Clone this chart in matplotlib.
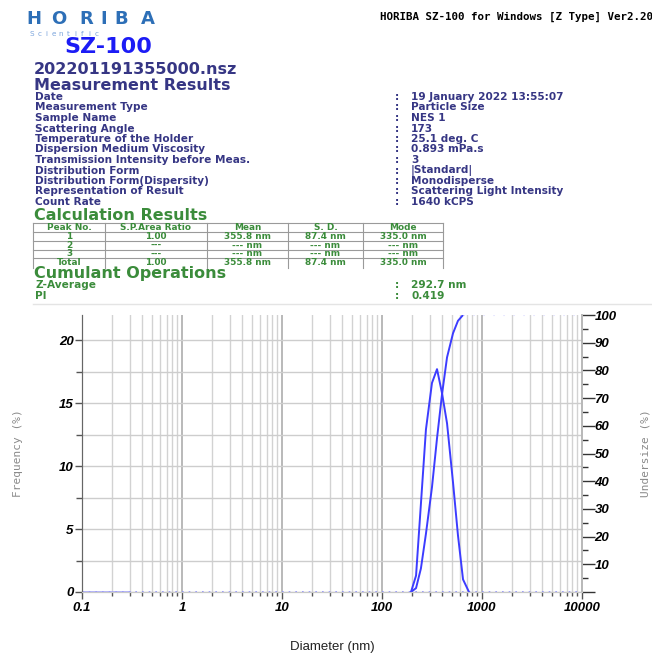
import numpy as np
import matplotlib
matplotlib.use('Agg')
import matplotlib.pyplot as plt
from matplotlib.ticker import FixedLocator, MultipleLocator, NullFormatter
from matplotlib.lines import Line2D

W, H = 652, 654

# report header values
header_right = "HORIBA SZ-100 for Windows [Z Type] Ver2.20"
file_name = "202201191355000.nsz"
info_labels = ["Date", "Measurement Type", "Sample Name", "Scattering Angle",
               "Temperature of the Holder", "Dispersion Medium Viscosity",
               "Transmission Intensity before Meas.", "Distribution Form",
               "Distribution Form(Dispersity)", "Representation of Result",
               "Count Rate"]
info_values = ["19 January 2022 13:55:07", "Particle Size", "NES 1", "173",
               "25.1 deg. C", "0.893 mPa.s", "3", "|Standard|",
               "Monodisperse", "Scattering Light Intensity", "1640 kCPS"]
table_header = ["Peak No.", "S.P.Area Ratio", "Mean", "S. D.", "Mode"]
table_rows = [["1", "1.00", "355.8 nm", "87.4 nm", "335.0 nm"],
              ["2", "---", "--- nm", "--- nm", "--- nm"],
              ["3", "---", "--- nm", "--- nm", "--- nm"],
              ["Total", "1.00", "355.8 nm", "87.4 nm", "335.0 nm"]]
cumulant_labels = ["Z-Average", "PI"]
cumulant_values = ["292.7 nm", "0.419"]

# distribution data
diameter = [195, 219, 245, 275, 316, 355, 398, 447, 513, 575, 646, 741]
frequency = [0, 1.3, 7.0, 12.9, 16.6, 17.7, 15.8, 13.4, 8.7, 4.5, 1.0, 0]
undersize = [0, 1.4, 8.5, 21.0, 37.8, 55.5, 71.3, 84.7, 93.4, 97.9, 100, 100]
x_ticks = [0.1, 1, 10, 100, 1000, 10000]
x_ticklabels = ["0.1", "1", "10", "100", "1000", "10000"]

navy = "#363684"
green = "#3b8c3b"
blue = "#3c3cff"
row_size = 7.6


def px(x, y):
    return x / W, 1 - y / H


fig = plt.figure(figsize=(W / 100, H / 100), dpi=100)

# logo
logo_x = [34, 59, 86, 103.5, 121, 148]
for ch, lx in zip("HORIBA", logo_x):
    fig.text(*px(lx, 24.5), ch, ha='center', va='baseline', fontsize=13,
             fontweight='bold', color='#2d6fb7', family='DejaVu Sans')
for i, ch in enumerate("Scientific"):
    fig.text(*px(32 + i * 7.2, 34), ch, ha='center', va='center', fontsize=5.2,
             color='#7aa4dc', family='DejaVu Sans')
fig.text(*px(380, 17), header_right, ha='left', va='center', fontsize=7.8,
         fontweight='bold', family='DejaVu Sans Mono', color='black')
fig.text(*px(64, 47), "SZ-100", ha='left', va='center', fontsize=16,
         fontweight='bold', color='#1c1cf5', family='DejaVu Sans')
fig.text(*px(34, 70), file_name, ha='left', va='center', fontsize=11.5,
         fontweight='bold', color=navy, family='DejaVu Sans')
fig.text(*px(34, 85), "Measurement Results", ha='left', va='center', fontsize=11.5,
         fontweight='bold', color=navy, family='DejaVu Sans')

for i, (lab, val) in enumerate(zip(info_labels, info_values)):
    yy = 97 + i * 10.5
    fig.text(*px(35, yy), lab, ha='left', va='center', fontsize=row_size,
             fontweight='bold', color=navy, family='DejaVu Sans')
    fig.text(*px(395, yy), ":", ha='left', va='center', fontsize=row_size,
             fontweight='bold', color=navy, family='DejaVu Sans')
    fig.text(*px(411, yy), val, ha='left', va='center', fontsize=row_size,
             fontweight='bold', color=navy, family='DejaVu Sans')

fig.text(*px(34, 215), "Calculation Results", ha='left', va='center', fontsize=11.5,
         fontweight='bold', color=green, family='DejaVu Sans')

# table
col_edges = [33, 105, 207, 288, 363, 443]
row_y = [228, 237, 245.5, 254, 262.5]
line_y = [223, 232.5, 241, 249.5, 258]
for ly in line_y:
    fig.add_artist(Line2D([33 / W, 443 / W], [1 - ly / H, 1 - ly / H],
                          color='#9a9a9a', lw=0.8))
for cx in col_edges:
    fig.add_artist(Line2D([cx / W, cx / W], [1 - 223 / H, 1 - 268 / H],
                          color='#9a9a9a', lw=0.8))
for r, row in enumerate([table_header] + table_rows):
    for c, cell in enumerate(row):
        cx = (col_edges[c] + col_edges[c + 1]) / 2
        fig.text(*px(cx, row_y[r]), cell, ha='center', va='center', fontsize=6.4,
                 fontweight='bold', color=green, family='DejaVu Sans')

fig.text(*px(34, 273), "Cumulant Operations", ha='left', va='center', fontsize=11.5,
         fontweight='bold', color=green, family='DejaVu Sans')
for i, (lab, val) in enumerate(zip(cumulant_labels, cumulant_values)):
    yy = 285.5 + i * 10.5
    fig.text(*px(35, yy), lab, ha='left', va='center', fontsize=row_size,
             fontweight='bold', color=green, family='DejaVu Sans')
    fig.text(*px(395, yy), ":", ha='left', va='center', fontsize=row_size,
             fontweight='bold', color=green, family='DejaVu Sans')
    fig.text(*px(411, yy), val, ha='left', va='center', fontsize=row_size,
             fontweight='bold', color=green, family='DejaVu Sans')
fig.add_artist(Line2D([33 / W, 1], [1 - 304 / H, 1 - 304 / H], color='#e4e4e4', lw=1))

# chart
ax = fig.add_axes([82 / W, (H - 592) / H, 500 / W, 277 / H])
ax.set_xscale('log')
ax.set_xlim(0.1, 10000)
ax.set_ylim(0, 22)

ax.grid(which='major', axis='x', color='#b9b9b9', lw=1.4)
ax.grid(which='minor', axis='x', color='#d2d2d2', lw=1.0)
ax.yaxis.set_major_locator(MultipleLocator(5))
ax.yaxis.set_minor_locator(MultipleLocator(2.5))
ax.grid(which='both', axis='y', color='#cdcdcd', lw=1.0)
ax.set_axisbelow(True)

ax.plot([0.1, 10000], [0, 0], color='#8c8cff', lw=1.2, ls=(0, (1, 3)))
ax.plot([0.1, 0.3], [0, 0], color='#9a9aff', lw=1.4, alpha=0.7)
ax.plot(diameter, frequency, color=blue, lw=1.4)

ax2 = ax.twinx()
ax2.set_ylim(0, 100)
ax2.plot(diameter[:-1], undersize[:-1], color=blue, lw=1.4)
ax2.plot([diameter[-2], 10000], [100, 100], color='#d8d8ff', lw=0.8, ls=(0, (1, 8)))

tick_font = dict(family='Liberation Sans', weight='bold', style='italic', size=9.5)
ax.set_xticks(x_ticks)
ax.set_xticklabels(x_ticklabels, fontdict=tick_font)
ax.xaxis.set_minor_formatter(NullFormatter())
ax.tick_params(axis='x', which='major', length=5, width=1, color='#555555', pad=2)
ax.tick_params(axis='x', which='minor', length=3, width=1, color='#555555')
ax.set_yticks([0, 5, 10, 15, 20])
ax.set_yticklabels(["0", "5", "10", "15", "20"], fontdict=tick_font)
ax.tick_params(axis='y', which='major', length=5, width=1, color='#555555', pad=1)
ax.tick_params(axis='y', which='minor', length=4, width=1, color='#555555')

ax2.yaxis.set_major_locator(FixedLocator(list(range(0, 101, 10))))
ax2.yaxis.set_minor_locator(MultipleLocator(5))
ax2.set_yticklabels([""] + [str(v) for v in range(10, 101, 10)], fontdict=tick_font)
ax2.tick_params(axis='y', which='major', length=9, width=1, color='#333333', pad=0)
ax2.tick_params(axis='y', which='minor', length=4, width=1, color='#333333')

for a in (ax, ax2):
    a.spines['top'].set_visible(False)
    a.spines['left'].set_color('#666666')
    a.spines['right'].set_color('#b9b9b9')
    a.spines['right'].set_linewidth(1.4)
    a.spines['bottom'].set_color('#c8c8c8')

fig.text(*px(18, 453), "Frequency (%)", rotation=90, ha='center', va='center',
         fontsize=8, family='DejaVu Sans Mono', color='#8a8a8a')
fig.text(*px(646, 453), "Undersize (%)", rotation=90, ha='center', va='center',
         fontsize=8, family='DejaVu Sans Mono', color='#8a8a8a')
fig.text(*px(332, 647), "Diameter (nm)", ha='center', va='center',
         fontsize=9.5, family='Liberation Sans', color='#222222')

fig.savefig('out.png', dpi=100)
